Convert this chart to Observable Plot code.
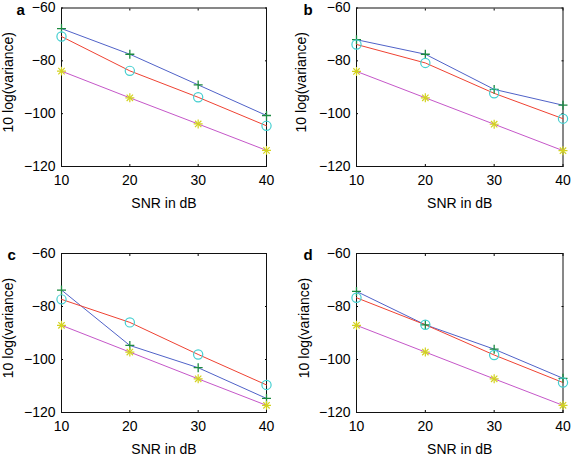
<!DOCTYPE html>
<html>
<head>
<meta charset="utf-8">
<script src="https://cdn.jsdelivr.net/npm/d3@7"></script>
<script src="https://cdn.jsdelivr.net/npm/@observablehq/plot@0.6"></script>
<style>
  html, body { margin: 0; padding: 0; background: #fff; }
  #wrap { position: relative; width: 572px; height: 458px; overflow: hidden; }
  .panel { position: absolute; width: 286px; height: 229px; }
</style>
</head>
<body>
<div id="wrap"></div>
<script>
// ---- data ----
const snr = [10, 20, 30, 40];
const xTicks = [10, 20, 30, 40];
const yTicks = [-60, -80, -100, -120];
const xLabel = "SNR in dB";
const yLabel = "10 log(variance)";
const panelLetters = ["a", "b", "c", "d"];

const aBlue = [-67.8, -77.5, -89.1, -100.7];
const aRed  = [-70.8, -83.8, -93.8, -104.6];
const aMag  = [-83.9, -94.0, -103.9, -113.9];

const bBlue = [-72.0, -77.5, -90.8, -96.8];
const bRed  = [-73.8, -80.8, -92.3, -101.9];
const bMag  = [-84.0, -94.0, -104.0, -114.0];

const cBlue = [-73.8, -94.7, -103.1, -114.7];
const cRed  = [-77.3, -86.0, -98.1, -109.6];
const cMag  = [-87.1, -97.2, -107.3, -117.3];

const dBlue = [-74.3, -86.9, -96.1, -107.1];
const dRed  = [-76.7, -86.9, -98.3, -108.7];
const dMag  = [-87.1, -97.2, -107.3, -117.3];

// ---- styles ----
const C = {
  blue: "#5062c8", red: "#ef4232", mag: "#c557c9",
  plus: "#1c8a40", circ: "#45cfd0", star: "#d3d21f"
};

const layout = [
  {left: 0,   top: 0,   m: [7.5, 20, 63, 61],  letterDx: -45, yLabDx: -53},
  {left: 286, top: 0,   m: [7.5, 9.5, 63, 70], letterDx: -53, yLabDx: -55},
  {left: 0,   top: 229, m: [24, 20, 46, 61],   letterDx: -54, yLabDx: -53},
  {left: 286, top: 229, m: [24, 9.5, 46, 70],  letterDx: -53, yLabDx: -52}
];
const series = [
  [aBlue, aRed, aMag],
  [bBlue, bRed, bMag],
  [cBlue, cRed, cMag],
  [dBlue, dRed, dMag]
];

const rows = arr => snr.map((s, i) => ({snr: s, v: arr[i]}));

const wrap = document.getElementById("wrap");
layout.forEach((L, k) => {
  const [blue, red, mag] = series[k].map(rows);
  const [mt, mr, mb, ml] = L.m;
  const chart = Plot.plot({
    width: 286, height: 229,
    marginTop: mt, marginRight: mr, marginBottom: mb, marginLeft: ml,
    style: {background: "transparent", fontFamily: "'Liberation Sans', Arial, sans-serif", fontSize: "14px", color: "#000", overflow: "visible"},
    x: {domain: [10, 40], label: null},
    y: {domain: [-120, -60], label: null},
    marks: [
      Plot.axisX(xTicks, {anchor: "bottom", tickSize: 0, tickPadding: 8.5, label: null}),
      Plot.axisX(xTicks, {anchor: "bottom", tickSize: -2, text: null, label: null}),
      Plot.axisX(xTicks, {anchor: "top", tickSize: -2, text: null, label: null}),
      Plot.axisY(yTicks, {anchor: "left", tickSize: 0, tickPadding: 6, label: null}),
      Plot.axisY(yTicks, {anchor: "left", tickSize: -2, text: null, label: null}),
      Plot.axisY(yTicks, {anchor: "right", tickSize: -2, text: null, label: null}),
      Plot.frame({stroke: "#111"}),
      Plot.line(blue, {x: "snr", y: "v", stroke: C.blue, strokeWidth: 1}),
      Plot.line(red, {x: "snr", y: "v", stroke: C.red, strokeWidth: 1}),
      Plot.line(mag, {x: "snr", y: "v", stroke: C.mag, strokeWidth: 1}),
      Plot.dot(blue, {x: "snr", y: "v", symbol: "plus", r: 3, stroke: C.plus, strokeWidth: 1.3}),
      Plot.dot(red, {x: "snr", y: "v", symbol: "circle", r: 4.6, stroke: C.circ, strokeWidth: 1.2, fill: "none"}),
      Plot.dot(mag, {x: "snr", y: "v", symbol: "plus", r: 3, stroke: C.star, strokeWidth: 1.2}),
      Plot.dot(mag, {x: "snr", y: "v", symbol: "times", r: 3, stroke: C.star, strokeWidth: 1.2}),
      Plot.text([yLabel], {frameAnchor: "left", dx: L.yLabDx, dy: -5, rotate: -90, textAnchor: "middle", lineAnchor: "middle", fill: "#000"}),
      Plot.text([xLabel], {frameAnchor: "bottom", dy: 37.5, textAnchor: "middle", lineAnchor: "middle", fill: "#000"}),
      Plot.text([panelLetters[k]], {frameAnchor: "top-left", dx: L.letterDx, dy: 1.7, textAnchor: "start", lineAnchor: "middle", fontWeight: "bold", fontSize: 15, fill: "#000"})
    ]
  });
  const div = document.createElement("div");
  div.className = "panel";
  div.style.left = L.left + "px";
  div.style.top = L.top + "px";
  div.appendChild(chart);
  wrap.appendChild(div);
});
</script>
</body>
</html>
